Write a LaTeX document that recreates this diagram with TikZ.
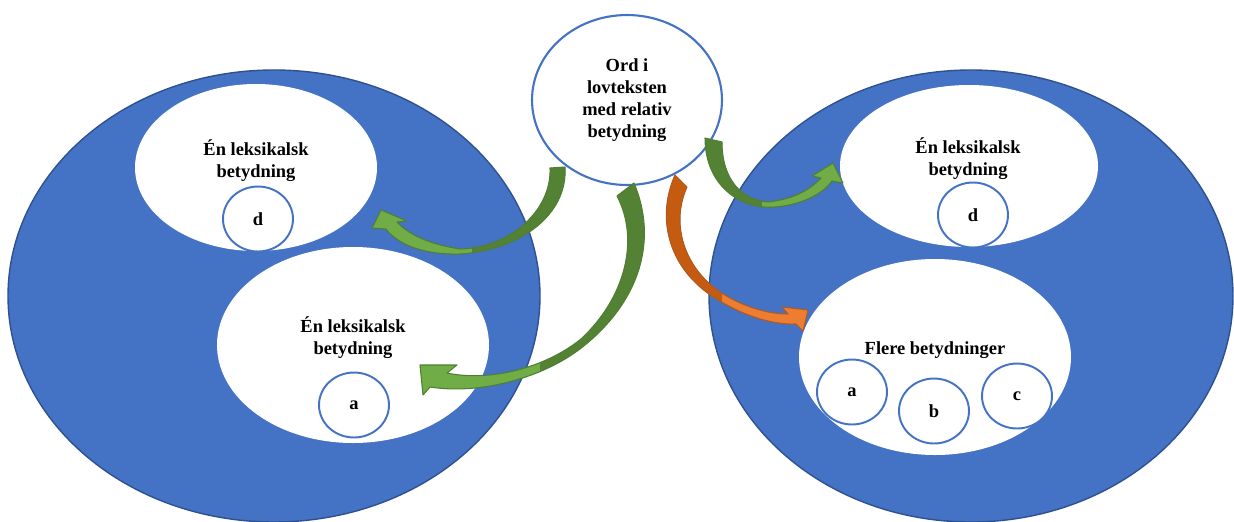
\documentclass[tikz,border=0pt]{standalone}
\usepackage{fontspec}
\setmainfont{Liberation Serif}
\usepackage{xcolor}
\usetikzlibrary{shapes.geometric}
\definecolor{setblue}{HTML}{4472C4}
\definecolor{setedge}{HTML}{2F528F}
\definecolor{greenlight}{HTML}{70AD47}
\definecolor{greendark}{HTML}{548235}
\definecolor{greenedge}{HTML}{507E32}
\definecolor{orangelight}{HTML}{ED7D31}
\definecolor{orangedark}{HTML}{C55A11}
\definecolor{orangeedge}{HTML}{AE5A21}

\begin{document}
\begin{tikzpicture}[x=0.02cm, y=-0.02cm,
  settext/.style={font=\bfseries\fontsize{10.5}{12.5}\selectfont, align=center, text=black},
  member/.style={ellipse, draw=setblue, line width=1.1pt, fill=white, minimum width=1.4cm, minimum height=1.3cm, inner sep=0pt, settext},
  setword/.style={ellipse, draw=setblue, line width=1.2pt, fill=white, minimum width=3.8cm, minimum height=3.4cm, inner sep=0pt, settext},
  greenarrow/.style={fill=greenlight, draw=greenedge, line width=0.6pt, line join=round},
  orangearrow/.style={fill=orangelight, draw=orangeedge, line width=0.6pt, line join=round}]

\useasboundingbox (0,0) rectangle (1234,521);
\clip (0,0) rectangle (1234,521);

\filldraw[fill=setblue, draw=setedge, line width=0.8pt] (274,296) ellipse [x radius=266, y radius=226];
\filldraw[fill=setblue, draw=setedge, line width=0.8pt] (971,296) ellipse [x radius=262, y radius=226];

\fill[white] (256,167.5) ellipse [x radius=121, y radius=83.5];
\fill[white] (353,345) ellipse [x radius=136, y radius=98];
\fill[white] (969,166) ellipse [x radius=129, y radius=81];
\fill[white] (935,357) ellipse [x radius=136, y radius=98];

\node[settext] (lefttop) at (256,161) {Én leksikalsk\\betydning};
\node[settext] (leftbottom) at (353,338) {Én leksikalsk\\betydning};
\node[settext] (righttop) at (968,159) {Én leksikalsk\\betydning};
\node[settext] (rightbottom) at (935,350) {Flere betydninger};

\node[member] (ld) at (258,219) {d};
\node[member] (la) at (354,405) {a};
\node[member] (rd) at (973,215) {d};
\node[member] (ra) at (852,392) {a};
\node[member] (rb) at (934,411) {b};
\node[member] (rc) at (1017,396) {c};

\node[setword] (word) at (627,100) {Ord i\\lovteksten\\med relativ\\betydning};

\filldraw[greenarrow, path picture={\fill[greendark] (472,100) rectangle (620,300);}]
  (565,167) .. controls (568,215) and (520,250) .. (460,254) .. controls (425,255) and (398,245) .. (386,229)
  -- (372,228) -- (381,210) -- (407,221) -- (397,222)
  .. controls (408,234) and (428,244) .. (460,249) .. controls (510,248) and (552,210) .. (550,168) -- cycle;
\filldraw[greenarrow, path picture={\fill[greendark] (540,150) rectangle (700,420);}]
  (634,183) .. controls (658,240) and (640,300) .. (585,345) .. controls (545,378) and (480,395) .. (430,387)
  -- (423,395) -- (420,365) -- (457,365) -- (447,373)
  .. controls (490,382) and (545,368) .. (581,339) .. controls (625,298) and (640,240) .. (617,196) -- cycle;
\filldraw[greenarrow, path picture={\fill[greendark] (680,100) rectangle (762,250);}]
  (705,138) .. controls (705,185) and (740,210) .. (775,207) .. controls (800,205) and (822,195) .. (832,181)
  -- (843,183) -- (833,163) -- (812,176) -- (821,178)
  .. controls (805,195) and (785,200) .. (768,202) .. controls (742,200) and (722,180) .. (722,142) -- cycle;
\filldraw[orangearrow, path picture={\fill[orangedark] (640,150) rectangle (722,320);}]
  (675,175) .. controls (655,220) and (670,270) .. (715,298) .. controls (740,314) and (770,325) .. (796,324)
  -- (803,331) -- (808,310) -- (782,307) -- (788,314)
  .. controls (765,314) and (740,305) .. (720,292) .. controls (685,268) and (670,225) .. (687,187) -- cycle;
\end{tikzpicture}
\end{document}
